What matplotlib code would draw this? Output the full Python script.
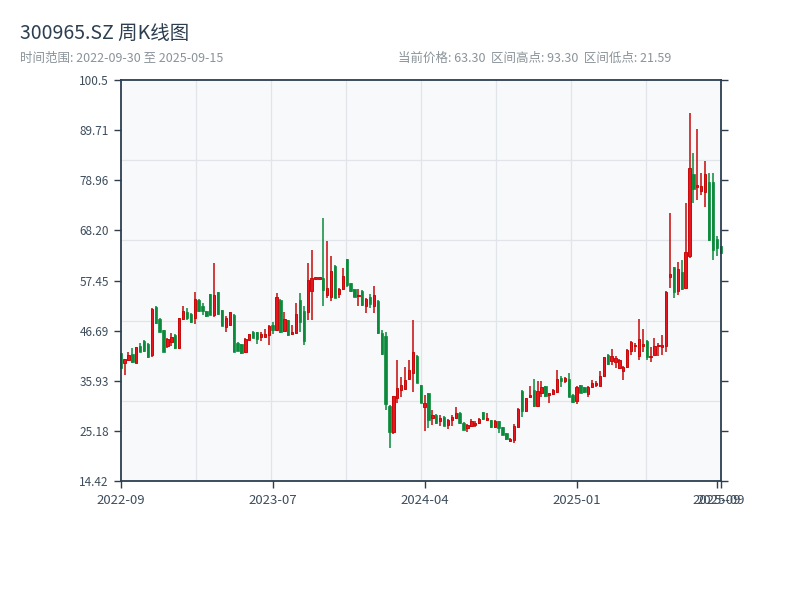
import numpy as np
import matplotlib
matplotlib.use("Agg")
import matplotlib.pyplot as plt

plt.rcParams['font.family'] = ['Noto Sans CJK SC', 'DejaVu Sans']

ticker = "300965.SZ"
start_date = "2022-09-30"
end_date = "2025-09-15"

opens = [41.8, 39.8, 40.3, 41.6, 39.8, 43.3, 44.5, 43.8, 41.4, 51.8,
         49.2, 46.8, 43.3, 44.2, 45.8, 42.9, 49.2, 50.6, 50.2, 49.3,
         53.3, 52.0, 50.9, 54.5, 50.1, 54.9, 51.1, 47.5, 47.9, 50.1,
         44.1, 43.8, 42.0, 44.7, 46.5, 46.3, 45.4, 45.4, 45.8, 47.9,
         46.8, 53.3, 46.7, 48.9, 45.9, 46.1, 53.3, 51.0, 50.7, 55.1,
         57.85, 57.85, 57.9, 54.4, 53.9, 60.6, 54.6, 55.6, 62.0, 56.9,
         55.6, 54.1, 55.2, 52.0, 54.0, 52.0, 53.1, 46.2, 45.6, 30.5,
         24.9, 32.2, 34.0, 34.1, 36.3, 37.7, 41.3, 35.0, 30.4, 33.2,
         28.0, 28.6, 27.4, 28.2, 26.4, 27.5, 28.0, 29.1, 26.9, 25.7,
         26.2, 26.4, 26.8, 29.2, 27.6, 27.5, 26.1, 27.3, 25.9, 24.7,
         22.9, 23.2, 26.0, 33.8, 29.5, 32.4, 34.0, 30.5, 33.4, 34.8,
         32.9, 33.0, 33.6, 36.6, 35.8, 36.3, 32.9, 31.5, 35.0, 34.5,
         33.0, 34.5, 35.1, 34.8, 37.0, 41.5, 40.1, 40.0, 38.6, 38.1,
         38.8, 42.4, 43.4, 41.3, 43.3, 44.5, 41.0, 41.5, 43.4, 43.1,
         43.4, 58.2, 60.3, 55.1, 59.2, 55.8, 62.6, 80.2, 77.6, 76.6,
         76.4, 78.5, 78.5, 66.3, 64.8]
highs = [41.9, 40.7, 42.0, 42.9, 43.2, 44.0, 44.6, 44.0, 51.5, 52.0,
         49.5, 46.9, 45.0, 46.1, 46.0, 49.5, 51.9, 51.5, 50.5, 54.9,
         53.4, 52.6, 51.0, 54.6, 61.2, 55.0, 51.2, 49.9, 50.6, 50.3,
         44.2, 43.9, 45.1, 46.0, 46.7, 46.4, 46.3, 47.0, 47.9, 48.6,
         54.7, 53.4, 50.7, 49.0, 47.9, 52.6, 54.7, 51.9, 61.3, 64.0,
         58.0, 58.0, 70.8, 66.0, 62.6, 60.7, 55.8, 60.1, 62.1, 57.0,
         55.7, 55.6, 55.3, 53.7, 54.6, 56.3, 53.2, 46.9, 46.3, 30.8,
         32.7, 40.3, 36.7, 38.8, 40.4, 49.0, 41.4, 35.1, 32.9, 33.3,
         29.7, 28.7, 28.6, 28.3, 27.7, 28.6, 30.2, 29.2, 27.0, 26.7,
         27.7, 27.2, 27.9, 29.3, 29.1, 27.6, 27.5, 27.4, 26.0, 24.8,
         23.6, 26.6, 30.1, 34.0, 32.3, 34.8, 36.3, 35.8, 35.8, 34.9,
         33.4, 34.1, 38.3, 37.0, 36.7, 37.7, 33.0, 34.8, 35.1, 34.6,
         34.8, 36.1, 35.8, 38.1, 41.1, 41.6, 42.7, 41.3, 40.6, 39.1,
         42.7, 44.4, 44.0, 49.1, 47.0, 44.7, 43.1, 45.1, 44.0, 45.8,
         55.1, 71.9, 60.4, 61.5, 61.8, 74.1, 93.3, 84.8, 90.0, 80.5,
         83.0, 80.5, 80.5, 66.9, 64.9]
lows = [38.5, 37.2, 40.2, 39.8, 39.7, 42.0, 42.2, 40.9, 41.0, 48.2,
        46.3, 42.0, 43.0, 43.4, 42.8, 42.8, 49.0, 49.0, 48.4, 48.1,
        50.6, 50.1, 49.7, 50.0, 49.6, 50.0, 47.6, 46.5, 47.7, 42.0,
        42.3, 41.7, 41.8, 44.6, 45.0, 43.9, 44.5, 45.3, 43.6, 45.9,
        46.7, 46.1, 46.3, 45.6, 45.8, 46.0, 46.5, 43.5, 48.9, 48.9,
        57.85, 57.85, 52.0, 53.6, 53.1, 53.6, 53.7, 55.4, 56.0, 55.0,
        53.8, 52.0, 52.0, 50.4, 51.5, 50.5, 46.0, 41.5, 29.7, 21.59,
        24.6, 31.2, 32.4, 33.9, 36.1, 33.6, 35.4, 31.1, 25.2, 25.7,
        26.4, 26.7, 26.2, 26.2, 25.5, 26.3, 27.7, 26.7, 25.3, 25.0,
        26.1, 26.1, 26.7, 27.6, 27.2, 25.8, 25.7, 24.8, 24.2, 23.3,
        22.8, 22.6, 25.8, 28.2, 29.3, 32.2, 30.4, 30.4, 32.5, 32.5,
        31.1, 32.9, 33.4, 34.5, 35.5, 32.4, 31.2, 31.0, 33.3, 33.4,
        32.5, 34.4, 34.5, 34.7, 36.8, 39.3, 39.3, 38.6, 38.4, 36.1,
        38.7, 41.5, 42.2, 40.3, 42.2, 40.4, 39.9, 41.4, 41.3, 41.5,
        42.2, 55.8, 53.7, 54.4, 55.4, 55.6, 62.3, 74.1, 74.8, 75.9,
        73.2, 66.0, 61.9, 62.8, 63.2]
closes = [38.6, 40.6, 41.5, 39.9, 43.1, 42.2, 42.3, 41.1, 51.3, 48.4,
          46.5, 42.2, 44.9, 45.3, 42.9, 49.4, 50.8, 49.3, 48.5, 53.4,
          50.8, 50.8, 49.9, 50.1, 54.4, 50.3, 47.7, 49.3, 50.6, 42.1,
          42.4, 41.8, 44.9, 45.9, 45.1, 44.9, 45.9, 46.0, 47.7, 46.9,
          53.9, 46.3, 49.2, 45.8, 46.5, 50.3, 48.5, 44.5, 57.6, 57.9,
          58.0, 58.0, 55.5, 55.8, 59.4, 53.7, 55.6, 58.5, 56.4, 55.1,
          53.9, 54.3, 52.1, 53.4, 52.3, 54.3, 46.1, 41.6, 31.0, 24.9,
          32.6, 34.3, 35.0, 36.2, 38.3, 42.2, 35.5, 31.2, 31.1, 27.6,
          28.6, 26.8, 27.9, 26.3, 27.5, 28.2, 29.1, 26.8, 25.4, 26.4,
          27.4, 26.8, 27.7, 27.7, 27.9, 25.9, 27.2, 25.7, 24.3, 23.4,
          23.5, 26.3, 29.8, 29.4, 32.2, 32.9, 30.5, 33.8, 34.5, 32.6,
          33.3, 34.0, 36.3, 35.8, 36.5, 32.5, 31.3, 34.5, 33.4, 33.5,
          34.5, 35.4, 35.3, 37.0, 41.0, 39.6, 41.3, 40.8, 40.4, 38.9,
          42.6, 44.2, 43.7, 44.8, 43.9, 41.0, 41.3, 43.3, 43.6, 43.6,
          55.0, 58.9, 54.9, 59.9, 55.6, 63.5, 81.6, 77.1, 77.8, 77.8,
          80.4, 66.1, 64.0, 64.4, 63.3]

tick_labels = ["2022-09", "2023-07", "2024-04", "2025-01", "2025-09", "2025-09"]

o = np.array(opens); h = np.array(highs); l = np.array(lows); c = np.array(closes)
n = len(c)
x = np.arange(n)

UP_FACE, UP_EDGE = "#e8141e", "#c70a0a"
DOWN = "#0a8a3a"

fig = plt.figure(figsize=(8, 6), dpi=100)
ax = fig.add_axes([120.7 / 800, 1 - 481 / 600, 600 / 800, 401 / 600])
ax.set_facecolor("#f7f9fb")

up = c >= o
# wicks
ax.vlines(x[up], l[up], h[up], color=UP_EDGE, lw=1.1, zorder=2, clip_on=False)
ax.vlines(x[~up], l[~up], h[~up], color=DOWN, lw=1.1, zorder=2, clip_on=False)
# bodies
bw = 0.6
body_bot = np.minimum(o, c)
body_h = np.maximum(np.abs(c - o), 0.3)
ax.bar(x[up], body_h[up], bottom=body_bot[up], width=bw, color=UP_FACE,
       edgecolor=UP_EDGE, linewidth=0.7, zorder=3, clip_on=False)
ax.bar(x[~up], body_h[~up], bottom=body_bot[~up], width=bw, color=DOWN,
       edgecolor=DOWN, linewidth=0.5, zorder=3, clip_on=False)

hi, lo = h.max(), l.min()
pad = (hi - lo) * 0.1
ymin, ymax = lo - pad, hi + pad
xmin, xmax = 0, n - 1
ax.set_xlim(xmin, xmax)
ax.set_ylim(ymin, ymax)

# grid (fixed fractions)
for k in range(1, 5):
    ax.axhline(ymin + k * (ymax - ymin) / 5, color="#e1e5ea", lw=0.9, zorder=0)
for k in range(1, 8):
    ax.axvline(xmin + k * (xmax - xmin) / 8, color="#e1e5ea", lw=0.9, zorder=0)

yt = np.linspace(ymin, ymax, 9)
ax.set_yticks(yt)
ax.set_yticklabels([f"{v:.2f}" if v < 100 else f"{v:.1f}" for v in yt])
tick_idx = [0, 39, 78, 117, n - 2, n - 1]
ax.set_xticks(tick_idx)
ax.set_xticklabels(tick_labels)

spc = "#2c3e50"
for s in ax.spines.values():
    s.set_color(spc)
    s.set_linewidth(1.3)
    s.set_zorder(5)
ax.tick_params(axis="both", colors=spc, length=5, width=1.0, labelsize=8.5,
               labelcolor="#3d4d5c")
ax.tick_params(axis="y", right=True, labelright=False)
ax.tick_params(axis="x", labelsize=9.5, pad=4)

fig.text(20 / 800, 1 - 34 / 600, f"{ticker} 周K线图", fontsize=14, color="#2c3e50",
         va="center", ha="left")
fig.text(20 / 800, 1 - 58 / 600, f"时间范围: {start_date} 至 {end_date}", fontsize=9,
         color="#8a9399", va="center", ha="left")
fig.text(398 / 800, 1 - 58 / 600,
         f"当前价格: {c[-1]:.2f}  区间高点: {hi:.2f}  区间低点: {lo:.2f}",
         fontsize=9, color="#8a9399", va="center", ha="left")

fig.savefig("out.png", dpi=100)
